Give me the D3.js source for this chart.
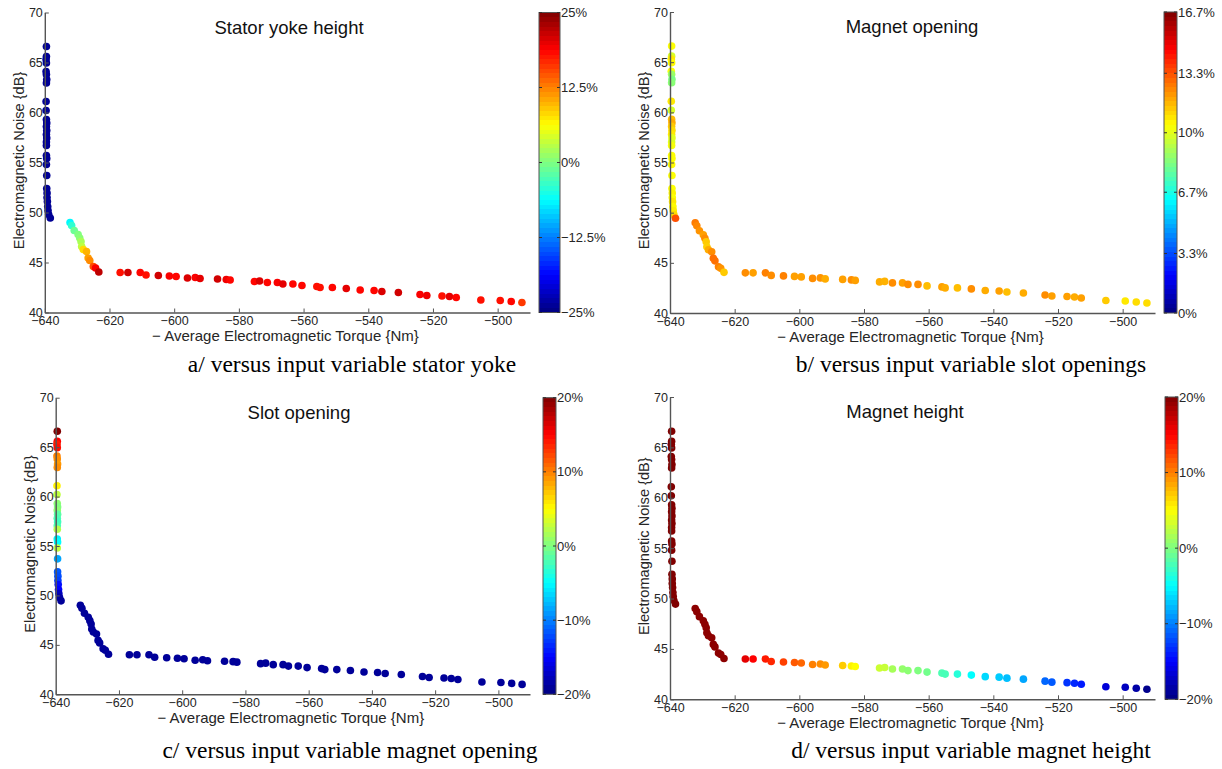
<!DOCTYPE html>
<html>
<head>
<meta charset="utf-8">
<script src="https://cdn.jsdelivr.net/npm/d3@7"></script>
<style>
  html, body { margin: 0; padding: 0; background: #fff; }
  svg { display: block; }
</style>
</head>
<body>
<svg id="chart" width="1222" height="769"></svg>
<script>
// ---------------- DATA ----------------
// Average electromagnetic torque (x, Nm) — shared by all four panels
const torque = [
  // vertical column
  -639.5, -639.5, -639.6, -639.5, -639.6, -639.5, -639.4, -639.5, -639.6, -639.6,
  -639.5, -639.4, -639.5, -639.4, -639.5, -639.4, -639.5, -639.5, -639.5, -639.4,
  -639.5, -639.4, -639.4, -639.3, -639.3, -639.2, -639.1, -639.0, -638.8, -638.3,
  // steep segment
  -632.2, -631.7, -630.9, -629.7, -629.2, -628.8, -628.6, -628.1, -627.1, -626.6,
  -626.1, -625.0, -624.3, -623.3,
  // flat tail
  -616.7, -614.3, -610.5, -608.7, -604.9, -601.5, -599.4, -595.9, -593.5, -592.0,
  -586.6, -583.9, -582.7, -575.2, -573.6, -571.2, -568.1, -566.4, -563.3, -560.5,
  -555.9, -554.9, -551.1, -546.8, -542.5, -538.2, -535.8, -530.7, -524.0, -521.9,
  -517.2, -514.9, -512.8, -505.2, -499.2, -495.8, -492.5
];
// Electromagnetic noise (y, dB)
const noise = [
  66.6, 65.6, 65.3, 64.95, 64.1, 63.8, 63.3, 62.95, 61.1, 60.2,
  59.3, 58.95, 58.6, 58.2, 57.8, 57.45, 57.05, 56.7, 55.7, 55.4,
  54.8, 53.7, 52.4, 51.95, 51.5, 51.1, 50.6, 50.2, 49.8, 49.45,
  49.0, 48.7, 48.2, 47.8, 47.45, 47.1, 46.6, 46.3, 46.1, 45.45,
  45.2, 44.6, 44.45, 44.05,
  44.0, 44.0, 44.0, 43.75, 43.7, 43.65, 43.6, 43.45, 43.5, 43.4,
  43.35, 43.3, 43.25, 43.1, 43.15, 43.0, 43.0, 42.85, 42.85, 42.7,
  42.6, 42.5, 42.5, 42.4, 42.25, 42.2, 42.1, 42.0, 41.8, 41.7,
  41.65, 41.6, 41.5, 41.25, 41.2, 41.1, 41.0
];
// Input variable values (%) used for the colour of each point
const statorYoke = [
  -24, -24, -24, -24, -24, -24, -24, -24, -24, -24,
  -24, -24, -24, -24, -24, -24, -24, -24, -24, -24,
  -24, -24, -24, -24, -24, -24, -24, -24, -24, -24,
  -6.5, -4, -1, 0, 0.5, 2, 3, 8, 10, 11, 12, 15, 19, 22,
  18, 21, 18.5, 18, 21, 19, 18.5, 20.5, 19, 20,
  21, 19.5, 18.5, 18.5, 20.5, 18.5, 19, 20, 18.5, 18.5,
  18, 18, 18.5, 20, 18.5, 18.5, 20.5, 21, 19, 19.5,
  18, 20, 18.5, 18, 18, 18.5, 16
];
const magnetOpening = [
  10.4, 9.8, 10.8, 10.5, 10.4, 8.8, 8.3, 8.5, 10.8, 9.8,
  11.5, 11.8, 11.3, 11.0, 10.8, 10.0, 9.9, 10.3, 10.4, 10.4,
  10.5, 10.4, 10.4, 10.6, 10.4, 10.8, 10.5, 10.7, 11.0, 13.3,
  12.6, 12.4, 12.2, 12.0, 12.3, 11.3, 11.2, 11.8, 12.3, 12.8, 12.8, 12.5, 12.2, 11.3,
  12.3, 12.0, 12.5, 12.3, 12.5, 12.0, 12.0, 12.3, 12.2, 11.8,
  12.0, 12.3, 12.0, 11.8, 11.7, 12.3, 12.0, 12.3, 12.3, 11.5,
  12.0, 11.8, 11.5, 12.3, 11.8, 12.0, 11.5, 11.8, 12.3, 12.0,
  12.0, 11.8, 12.0, 11.3, 10.8, 11.0, 11.0
];
const slotOpening = [
  20, 15, 14, 14.5, 10, 9.5, 9, 9.5, 5.5, 2.5,
  0.5, 0, 0.5, -1.5, -2, -2.5, -2, 2, -5.5, -5,
  2.5, -8.5, -11.5, -12, -12.5, -14.5, -15, -17.5, -18.5, -19,
  -19, -19, -19, -19, -19, -19, -19, -19, -19, -19, -19, -19, -19, -19,
  -19, -19, -19, -19, -19, -19, -19, -19, -19, -19,
  -19, -19, -19, -19, -19, -19, -19, -19, -19, -19,
  -19, -19, -19, -19, -19, -19, -19, -19, -19, -19,
  -19, -19, -19, -19, -19, -19, -19
];
const magnetHeight = [
  20, 20, 20, 20, 20, 20, 20, 20, 20, 20,
  20, 20, 20, 20, 20, 20, 20, 20, 20, 20,
  20, 20, 20, 20, 20, 20, 20, 20, 20, 20,
  19.5, 19.5, 19.5, 19.5, 19.5, 19.5, 19.5, 19.5, 19.5, 19.5, 19.5, 19.5, 19.5, 19.5,
  16, 15, 14, 13.5, 12.5, 11.5, 11, 10, 9.5, 9,
  7, 5.5, 5, 3, 2.8, 1.5, 0.8, 0.5, 0, -0.5,
  -2, -2.2, -3.5, -5, -6.5, -7, -7.5, -8.5, -11, -11.5,
  -13, -13.5, -14, -16.5, -17.5, -18.5, -19.5
];

// Tick values / labels
const xTicks = [-640, -620, -600, -580, -560, -540, -520, -500];
const yTicks = [40, 45, 50, 55, 60, 65, 70];
const titles = ["Stator yoke height", "Magnet opening", "Slot opening", "Magnet height"];
const captions = [
  "a/ versus input variable stator yoke",
  "b/ versus input variable slot openings",
  "c/ versus input variable magnet opening",
  "d/ versus input variable magnet height"
];
const cbTicksA = [-25, -12.5, 0, 12.5, 25];
const cbTicksB = [0, 3.3, 6.7, 10, 13.3, 16.7];
const cbTicksC = [-20, -10, 0, 10, 20];
const cbTicksD = [-20, -10, 0, 10, 20];
const xLabel = "\u2212 Average Electromagnetic Torque {Nm}";
const yLabel = "Electromagnetic Noise {dB}";

// ---------------- LAYOUT ----------------
const panels = [
  { values: statorYoke,    cDomain: [-25, 25],   cTicks: cbTicksA, x0: 44.8,  x1: 530,  y0: 12.5,  y1: 312.5,
    cbx: 539,  cbw: 21, titleX: 289, capX: 352, capY: 372 },
  { values: magnetOpening, cDomain: [0, 16.7],   cTicks: cbTicksB, x0: 670,   x1: 1155, y0: 12,    y1: 313,
    cbx: 1164, cbw: 13, titleX: 912, capX: 971, capY: 372 },
  { values: slotOpening,   cDomain: [-20, 20],   cTicks: cbTicksC, x0: 55.7,  x1: 530,  y0: 397.7, y1: 694.3,
    cbx: 543,  cbw: 13, titleX: 299, capX: 350, capY: 758 },
  { values: magnetHeight,  cDomain: [-20, 20],   cTicks: cbTicksD, x0: 670,   x1: 1155, y0: 397,   y1: 699.3,
    cbx: 1165, cbw: 13, titleX: 905, capX: 971, capY: 758 }
];

function jet(t) {
  t = Math.max(0, Math.min(1, t));
  const c = v => Math.round(255 * Math.max(0, Math.min(1, v)));
  return d3.rgb(c(1.5 - Math.abs(4 * t - 3)), c(1.5 - Math.abs(4 * t - 2)), c(1.5 - Math.abs(4 * t - 1))).toString();
}
const fmtTick = v => (v < 0 ? "\u2212" + Math.abs(v) : "" + v);

const svg = d3.select("#chart");
const defs = svg.append("defs");
const sans = "'Liberation Sans', Arial, sans-serif";
const serif = "'Liberation Serif', 'Times New Roman', serif";
const axisColor = "#555";
const textColor = "#262626";

panels.forEach((p, i) => {
  const x = d3.scaleLinear().domain([-640, -490]).range([p.x0, p.x1]);
  const y = d3.scaleLinear().domain([40, 70]).range([p.y1, p.y0]);
  const g = svg.append("g");

  // points
  const toT = d3.scaleLinear().domain(p.cDomain).range([0, 1]);
  const pts = torque.map((t, k) => ({ x: t, y: noise[k], v: p.values[k] }));
  g.append("g").selectAll("circle").data(pts).join("circle")
    .attr("cx", d => x(d.x)).attr("cy", d => y(d.y)).attr("r", 3.8)
    .attr("fill", d => jet(toT(d.v)));

  // axes (ticks inward, no box)
  const xAxis = d3.axisBottom(x).tickValues(xTicks).tickSize(-4).tickFormat(fmtTick).tickSizeOuter(0);
  const yAxis = d3.axisLeft(y).tickValues(yTicks).tickSize(-4).tickFormat(d3.format("d")).tickSizeOuter(0);
  const gx = g.append("g").attr("transform", `translate(0,${p.y1})`).call(xAxis);
  const gy = g.append("g").attr("transform", `translate(${p.x0},0)`).call(yAxis);
  [gx, gy].forEach(a => {
    a.select(".domain").attr("stroke", axisColor).attr("stroke-width", 1.4);
    a.selectAll(".tick line").attr("stroke", axisColor);
    a.selectAll(".tick text").attr("fill", textColor).attr("font-family", sans).attr("font-size", 12.5);
  });
  gx.selectAll(".tick text").attr("y", 4).attr("dy", "0.71em");
  gy.selectAll(".tick text").attr("x", -2);

  // title
  g.append("text").attr("x", p.titleX).attr("y", p.y0 + 21).attr("text-anchor", "middle")
    .attr("font-family", sans).attr("font-size", 18.5).attr("fill", "#111").text(titles[i]);

  // axis labels
  g.append("text").attr("x", (p.x0 + p.x1) / 2 - 2).attr("y", p.y1 + 28.5).attr("text-anchor", "middle")
    .attr("font-family", sans).attr("font-size", 15).attr("fill", textColor).text(xLabel);
  g.append("text").attr("transform", `translate(${p.x0 - 21},${(p.y0 + p.y1) / 2 - 2}) rotate(-90)`)
    .attr("text-anchor", "middle").attr("font-family", sans).attr("font-size", 14.6).attr("fill", textColor).text(yLabel);

  // colorbar
  const gid = "jet" + i;
  const grad = defs.append("linearGradient").attr("id", gid).attr("x1", 0).attr("y1", 1).attr("x2", 0).attr("y2", 0);
  d3.range(0, 64).forEach(k => {
    grad.append("stop").attr("offset", k / 64).attr("stop-color", jet((k + 0.5) / 64));
    grad.append("stop").attr("offset", (k + 1) / 64).attr("stop-color", jet((k + 0.5) / 64));
  });
  g.append("rect").attr("x", p.cbx).attr("y", p.y0).attr("width", p.cbw).attr("height", p.y1 - p.y0)
    .attr("fill", `url(#${gid})`).attr("stroke", axisColor).attr("stroke-width", 1);
  const cs = d3.scaleLinear().domain(p.cDomain).range([p.y1, p.y0]);
  const cg = g.append("g");
  p.cTicks.forEach(v => {
    const yy = cs(v);
    cg.append("line").attr("x1", p.cbx).attr("x2", p.cbx + 3).attr("y1", yy).attr("y2", yy).attr("stroke", "#333");
    cg.append("line").attr("x1", p.cbx + p.cbw - 3).attr("x2", p.cbx + p.cbw).attr("y1", yy).attr("y2", yy).attr("stroke", "#333");
    cg.append("text").attr("x", p.cbx + p.cbw + 1).attr("y", yy).attr("dy", "0.35em")
      .attr("font-family", sans).attr("font-size", 13).attr("fill", textColor).text(fmtTick(v) + "%");
  });

  // caption
  svg.append("text").attr("x", p.capX).attr("y", p.capY).attr("text-anchor", "middle")
    .attr("font-family", serif).attr("font-size", 23.5).attr("fill", "#000").text(captions[i]);
});
</script>
</body>
</html>
